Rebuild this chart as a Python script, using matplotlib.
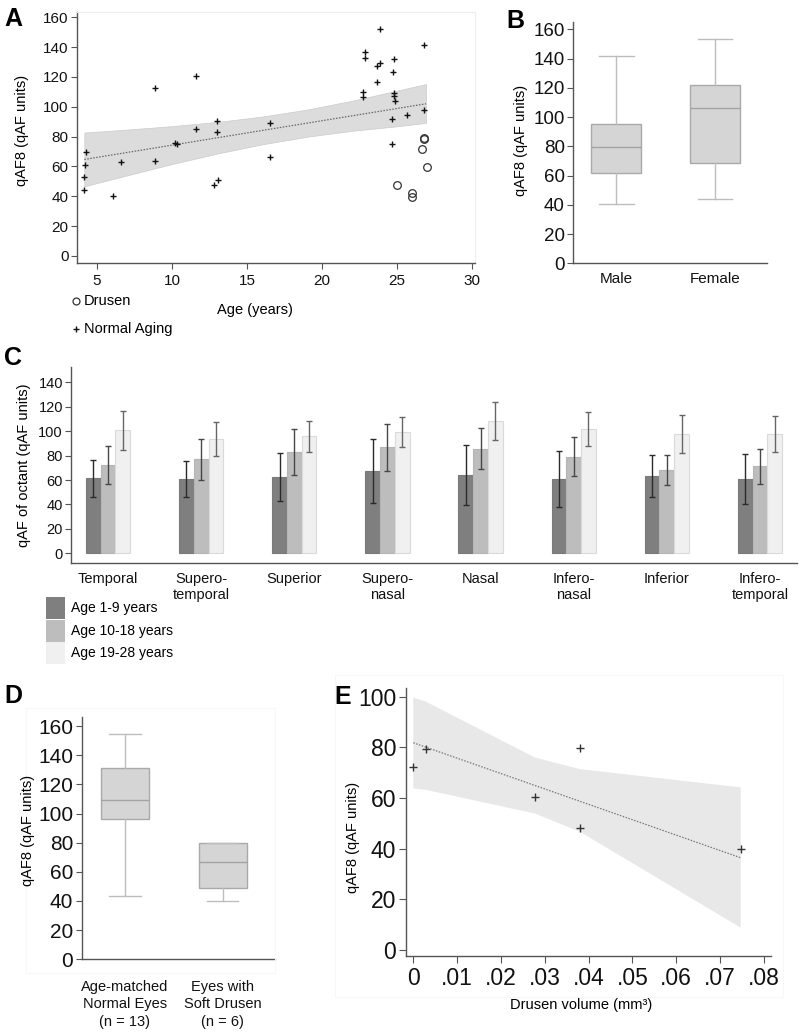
import numpy as np
import matplotlib
matplotlib.use("Agg")
import matplotlib.pyplot as plt
from matplotlib.patches import Rectangle
from matplotlib.lines import Line2D

plt.rcParams['font.family'] = ['Liberation Sans', 'DejaVu Sans']

# ---- panel A : qAF8 vs age ----
normal_age = [4.15, 4.15, 4.2, 4.3, 6.1, 6.6, 8.9, 8.9, 10.2, 10.35, 11.6, 11.6,
              13.0, 13.0, 12.8, 13.1, 16.53, 16.53, 22.75, 22.75, 22.9, 22.9,
              23.9, 23.9, 23.7, 23.7, 24.8, 24.75, 24.8, 24.8, 24.9, 24.7, 24.7,
              25.7, 26.8, 26.8]
normal_q = [44.2, 52.7, 61.1, 70.0, 40.2, 63.1, 112.7, 63.5, 75.6, 75.1, 120.5, 85.0,
            90.2, 83.4, 47.6, 50.7, 89.0, 66.0, 110.0, 106.7, 136.5, 133.0,
            152.2, 129.6, 127.4, 116.9, 131.9, 123.6, 109.3, 107.3, 103.8, 92.1, 74.8,
            94.6, 141.4, 97.9]
drusen_age = [26.8, 26.8, 26.7, 27.0, 25.0, 26.0, 26.0]
drusen_q = [79.0, 78.3, 71.4, 59.9, 47.7, 42.4, 39.7]
fit_age = [4.16, 26.93]
fit_q = [64.7, 102.0]
band_age = [4.16, 7, 10, 13, 16, 19, 22, 25, 26.93]
band_hi = [82.7, 84.7, 87.0, 89.8, 93.4, 98.1, 104.0, 110.8, 115.2]
band_lo = [46.7, 54.0, 61.6, 68.6, 74.8, 79.9, 83.9, 86.9, 89.2]

# ---- panel B : sex ----
sex_labels = ['Male', 'Female']
sex_stats = [[40.3, 61.5, 79.7, 95.0, 142.0],   # min, q1, median, q3, max
             [43.8, 68.4, 106.0, 122.1, 153.2]]

# ---- panel C : octants ----
octants = ['Temporal', 'Supero-\ntemporal', 'Superior', 'Supero-\nnasal', 'Nasal',
           'Infero-\nnasal', 'Inferior', 'Infero-\ntemporal']
age_groups = ['Age 1-9 years', 'Age 10-18 years', 'Age 19-28 years']
oct_mean_1 = [61.4, 60.9, 62.2, 67.4, 63.9, 60.9, 63.3, 60.6]
oct_sd_1 = [15.3, 14.6, 19.7, 26.2, 24.5, 23.2, 17.6, 20.4]
oct_mean_2 = [72.3, 77.2, 83.0, 86.8, 85.7, 78.9, 68.0, 71.2]
oct_sd_2 = [15.7, 16.8, 18.5, 19.4, 17.0, 16.0, 12.4, 14.6]
oct_mean_3 = [100.7, 93.6, 95.8, 99.1, 108.4, 102.1, 97.4, 97.4]
oct_sd_3 = [16.2, 13.7, 12.7, 12.4, 15.6, 13.9, 15.6, 14.7]

# ---- panel D : drusen vs normal ----
grp_labels = ['Age-matched\nNormal Eyes\n(n = 13)', 'Eyes with\nSoft Drusen\n(n = 6)']
grp_stats = [[43.6, 96.2, 109.0, 131.0, 154.3],
             [40.2, 48.7, 66.5, 79.6, 80.0]]

# ---- panel E : drusen volume ----
vol = [0.0, 0.0029, 0.0277, 0.038, 0.038, 0.0747]
vol_q = [72.1, 79.3, 60.5, 79.9, 48.3, 39.7]
e_fit_x = [0.0, 0.0747]
e_fit_y = [81.8, 36.4]
e_band_x = [0.0, 0.0029, 0.0277, 0.038, 0.0747]
e_band_hi = [99.7, 98.0, 76.0, 71.4, 64.2]
e_band_lo = [63.8, 63.2, 53.9, 46.7, 8.8]
e_xticks = [0, 0.01, 0.02, 0.03, 0.04, 0.05, 0.06, 0.07, 0.08]
e_xticklabels = ['0', '.01', '.02', '.03', '.04', '.05', '.06', '.07', '.08']

W, H = 800, 1033
fig = plt.figure(figsize=(W / 100, H / 100), dpi=100)


def px_rect(l, t, r, b):
    return [l / W, 1 - b / H, (r - l) / W, (b - t) / H]


def ftext(x, y, s, **kw):
    fig.text(x / W, 1 - y / H, s, **kw)


axis_col = '#555555'


def style(ax, fs, keep_frame=False):
    for s in ['left', 'bottom']:
        ax.spines[s].set_color(axis_col)
        ax.spines[s].set_linewidth(1.0)
    for s in ['top', 'right']:
        if keep_frame:
            ax.spines[s].set_color('#ededed')
        else:
            ax.spines[s].set_visible(False)
    ax.tick_params(colors=axis_col, labelcolor='#111111', labelsize=fs, width=0.8)
    ax.set_facecolor('none')


# faint plot region frames
for (l, t, r, b) in [(26, 708, 275, 973), (335, 675, 783, 997)]:
    fig.add_artist(Rectangle((l / W, 1 - b / H), (r - l) / W, (b - t) / H,
                             transform=fig.transFigure, fill=False,
                             edgecolor='#f7f7f7', lw=0.8))

# ---------------- A ----------------
axA = fig.add_axes(px_rect(77, 12, 475, 263))
style(axA, 11, keep_frame=True)
axA.fill_between(band_age, band_lo, band_hi, facecolor='#dcdcdc',
                 edgecolor='#cbcbcb', lw=0.5)
axA.plot(fit_age, fit_q, ls=(0, (1.2, 1.2)), color='#666666', lw=0.9)
axA.plot(normal_age, normal_q, '+', color='#111111', ms=4, mew=1.0)
axA.plot(drusen_age, drusen_q, 'o', mfc='none', mec='#333333', ms=5.5, mew=0.9)
axA.set_xlim(3.67, 30.2)
axA.set_ylim(-4.7, 163.5)
axA.set_xticks([5, 10, 15, 20, 25, 30])
axA.set_yticks(range(0, 161, 20))
axA.tick_params(axis='x', length=4, pad=4)
axA.tick_params(axis='y', length=4, pad=2)
ftext(22, 130, 'qAF8 (qAF units)', rotation=90, ha='center', va='center', fontsize=10.5)
ftext(255, 310, 'Age (years)', ha='center', va='center', fontsize=10.5)
fig.add_artist(Line2D([76 / W], [1 - 301 / H], marker='o', mfc='none', mec='#333333',
                      ms=5, mew=0.9, transform=fig.transFigure))
ftext(84, 301, 'Drusen', ha='left', va='center', fontsize=10.5)
fig.add_artist(Line2D([76 / W], [1 - 329 / H], marker='+', color='#111111',
                      ms=4, mew=1.0, transform=fig.transFigure))
ftext(84, 329, 'Normal Aging', ha='left', va='center', fontsize=10.5)
ftext(13, 19, 'A', ha='center', va='center', fontsize=18, fontweight='bold')

# box style shared by B and D
box_kw = dict(patch_artist=True, showfliers=False,
              boxprops=dict(facecolor='#d5d5d5', edgecolor='#a9a9a9', lw=1.0),
              medianprops=dict(color='#a3a3a3', lw=1.0),
              whiskerprops=dict(color='#bdbdbd', lw=1.0),
              capprops=dict(color='#bdbdbd', lw=1.0))


def to_bxp(stats):
    return [dict(whislo=s[0], q1=s[1], med=s[2], q3=s[3], whishi=s[4], fliers=[])
            for s in stats]


# ---------------- B ----------------
axB = fig.add_axes(px_rect(573.3, 21.7, 767, 263.3))
style(axB, 13.5)
axB.bxp(to_bxp(sex_stats), positions=[1, 2], widths=0.5, capwidths=0.35, **box_kw)
axB.set_xlim(0.566, 2.525)
axB.set_ylim(0, 165.2)
axB.set_yticks(range(0, 161, 20))
axB.set_xticks([1, 2])
axB.set_xticklabels(sex_labels, fontsize=11)
axB.tick_params(axis='x', length=0, pad=6)
axB.tick_params(axis='y', length=4, pad=2)
ftext(521, 140, 'qAF8 (qAF units)', rotation=90, ha='center', va='center', fontsize=10.5)
ftext(515, 21, 'B', ha='center', va='center', fontsize=18, fontweight='bold')

# ---------------- C ----------------
axC = fig.add_axes(px_rect(71.3, 366.7, 796.7, 562.7))
style(axC, 10.5)
x = np.arange(len(octants))
bw = 0.158
bar_face = ['#7f7f7f', '#bdbdbd', '#f0f0f0']
bar_edge = ['#7a7a7a', '#b5b5b5', '#dadada']
err_col = ['#2a2a2a', '#474747', '#666666']
for i, (m, sd) in enumerate([(oct_mean_1, oct_sd_1), (oct_mean_2, oct_sd_2),
                             (oct_mean_3, oct_sd_3)]):
    axC.bar(x + (i - 1) * bw, m, bw, color=bar_face[i], edgecolor=bar_edge[i], lw=0.8,
            yerr=sd, error_kw=dict(ecolor=err_col[i], elinewidth=1.0, capsize=2.2,
                                   capthick=1.0))
axC.set_xlim(-0.394, 7.394)
axC.set_ylim(-7.7, 152.8)
axC.set_yticks(range(0, 141, 20))
axC.set_xticks(x)
axC.set_xticklabels(octants, fontsize=10.5, linespacing=1.15)
axC.tick_params(axis='x', length=0, pad=7)
axC.tick_params(axis='y', length=4, pad=2)
ftext(24, 465, 'qAF of octant (qAF units)', rotation=90, ha='center', va='center',
      fontsize=10.5)
ftext(13, 358, 'C', ha='center', va='center', fontsize=18, fontweight='bold')
leg_y = [597, 619.5, 642]
for i, lab in enumerate(age_groups):
    fig.add_artist(Rectangle((46 / W, 1 - (leg_y[i] + 22) / H), 19 / W, 22 / H,
                             transform=fig.transFigure, facecolor=bar_face[i],
                             edgecolor='none'))
    ftext(71, leg_y[i] + 11, lab, ha='left', va='center', fontsize=10)

# ---------------- D ----------------
axD = fig.add_axes(px_rect(81.7, 716.7, 275, 959.3))
style(axD, 15)
axD.bxp(to_bxp(grp_stats), positions=[1, 2], widths=0.495, capwidths=0.32, **box_kw)
axD.set_xlim(0.557, 2.535)
axD.set_ylim(0, 166.4)
axD.set_yticks(range(0, 161, 20))
axD.set_xticks([1, 2])
axD.set_xticklabels(grp_labels, fontsize=10.5, linespacing=1.3)
axD.tick_params(axis='x', length=0, pad=15)
axD.tick_params(axis='y', length=4, pad=2)
ftext(28, 830, 'qAF8 (qAF units)', rotation=90, ha='center', va='center', fontsize=10.5)
ftext(13, 696, 'D', ha='center', va='center', fontsize=18, fontweight='bold')

# ---------------- E ----------------
axE = fig.add_axes(px_rect(406, 688.3, 771, 956))
style(axE, 16.5)
axE.fill_between(e_band_x, e_band_lo, e_band_hi, facecolor='#e8e8e8', lw=0)
axE.plot(e_fit_x, e_fit_y, ls=(0, (1.2, 1.2)), color='#777777', lw=0.9)
axE.plot(vol, vol_q, '+', color='#333333', ms=6, mew=1.0)
axE.set_xlim(-0.00166, 0.0816)
axE.set_ylim(-2.37, 103.3)
axE.set_xticks(e_xticks)
axE.set_xticklabels(e_xticklabels)
axE.set_yticks(range(0, 101, 20))
axE.tick_params(axis='x', length=5, pad=3)
axE.tick_params(axis='y', length=5, pad=2)
ftext(581, 1005, 'Drusen volume (mm³)', ha='center', va='center', fontsize=10.5)
ftext(353, 837, 'qAF8 (qAF units)', rotation=90, ha='center', va='center', fontsize=10.5)
ftext(343, 697, 'E', ha='center', va='center', fontsize=18, fontweight='bold')

fig.savefig('out.png', dpi=100, facecolor='white')
